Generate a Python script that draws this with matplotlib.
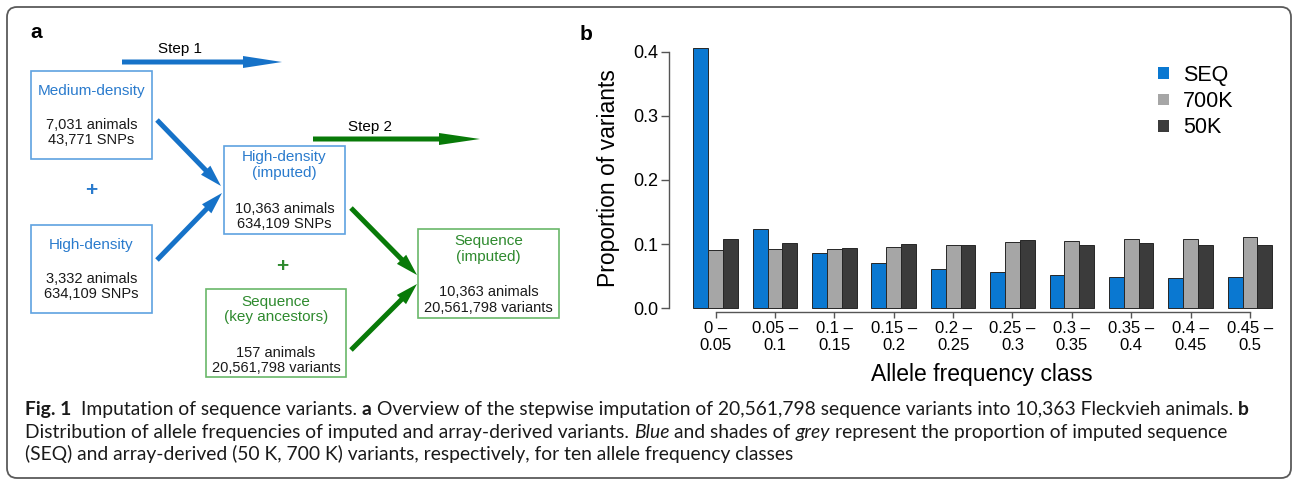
import matplotlib
matplotlib.use("Agg")
import matplotlib.pyplot as plt
from matplotlib.patches import FancyBboxPatch, Rectangle, FancyArrow
import numpy as np

plt.rcParams['font.family'] = ['Liberation Sans', 'DejaVu Sans']

# panel b: proportion of variants per allele frequency class
class_lo = ["0", "0.05", "0.1", "0.15", "0.2", "0.25", "0.3", "0.35", "0.4", "0.45"]
class_hi = ["0.05", "0.1", "0.15", "0.2", "0.25", "0.3", "0.35", "0.4", "0.45", "0.5"]
seq = [0.406, 0.123, 0.086, 0.071, 0.061, 0.057, 0.052, 0.049, 0.048, 0.049]
k700 = [0.091, 0.092, 0.092, 0.095, 0.099, 0.104, 0.105, 0.108, 0.108, 0.111]
k50 = [0.108, 0.102, 0.094, 0.100, 0.099, 0.106, 0.098, 0.102, 0.099, 0.099]
series = ["SEQ", "700K", "50K"]
yticks = [0.0, 0.1, 0.2, 0.3, 0.4]

# panel a: imputation steps
med_title, med_body = "Medium-density", "7,031 animals\n43,771 SNPs"
hd_title, hd_body = "High-density", "3,332 animals\n634,109 SNPs"
hdi_title, hdi_body = "High-density\n(imputed)", "10,363 animals\n634,109 SNPs"
key_title, key_body = "Sequence\n(key ancestors)", "157 animals\n20,561,798 variants"
seqi_title, seqi_body = "Sequence\n(imputed)", "10,363 animals\n20,561,798 variants"

caption = [
    [("Fig. 1", "bold", "normal", 2),
     ("Imputation of sequence variants.", "normal", "normal", 1),
     ("a", "bold", "normal", 1),
     ("Overview of the stepwise imputation of 20,561,798 sequence variants into 10,363 Fleckvieh animals.", "normal", "normal", 1),
     ("b", "bold", "normal", 0)],
    [("Distribution of allele frequencies of imputed and array-derived variants.", "normal", "normal", 1),
     ("Blue", "normal", "italic", 1),
     ("and shades of", "normal", "normal", 1),
     ("grey", "normal", "italic", 1),
     ("represent the proportion of imputed sequence", "normal", "normal", 0)],
    [("(SEQ) and array-derived (50 K, 700 K) variants, respectively, for ten allele frequency classes", "normal", "normal", 0)],
]

W, H = 1292, 482
fig = plt.figure(figsize=(W / 100, H / 100), dpi=100)
fig.patch.set_facecolor("white")

# overlay in pixel coordinates for the diagram, frame and caption
ax0 = fig.add_axes([0, 0, 1, 1])
ax0.set_xlim(0, W)
ax0.set_ylim(H, 0)
ax0.axis("off")

ax0.add_patch(FancyBboxPatch((7, 7), 1284, 471, boxstyle="round,pad=0,rounding_size=10",
                             fill=False, ec="#5a5a5a", lw=1.3))

BLUE_T, BLUE_E, BLUE_A = "#2a7bcd", "#5fa2e0", "#1672c8"
GREEN_T, GREEN_E, GREEN_A = "#2e8a2e", "#6ab86a", "#087a08"


def box(x0, y0, x1, y1, title, ty, body, by, tcol, ecol):
    ax0.add_patch(Rectangle((x0, y0), x1 - x0, y1 - y0, fill=False, ec=ecol, lw=1.2))
    cx = (x0 + x1) / 2
    ax0.text(cx, ty, title, color=tcol, fontsize=11, ha="center", va="center", linespacing=1.15)
    ax0.text(cx, by, body, color="#1a1a1a", fontsize=10.5, ha="center", va="center", linespacing=1.1)


def arrow(x0, y0, x1, y1, col, hl, hw):
    ax0.add_patch(FancyArrow(x0, y0, x1 - x0, y1 - y0, width=5, head_width=hw, head_length=hl,
                             length_includes_head=True, color=col, lw=0))


ax0.text(36, 33, "a", fontsize=15, fontweight="bold", ha="center", va="center")
ax0.text(586, 35, "b", fontsize=15, fontweight="bold", ha="center", va="center")

ax0.text(180, 49, "Step 1", fontsize=11, ha="center", va="center")
arrow(122, 62, 282, 62, BLUE_A, 39, 12)
box(31, 71, 152, 159, med_title, 91, med_body, 132.5, BLUE_T, BLUE_E)
ax0.text(91, 191, "+", fontsize=15, color=BLUE_T, ha="center", va="center", fontweight="bold")
box(31, 225, 152, 313, hd_title, 245, hd_body, 286.5, BLUE_T, BLUE_E)
arrow(157, 120, 221, 186, BLUE_A, 22, 13)
arrow(157, 260, 222, 193, BLUE_A, 22, 13)
box(224, 146, 345, 234, hdi_title, 165, hdi_body, 216.5, BLUE_T, BLUE_E)

ax0.text(370, 127, "Step 2", fontsize=11, ha="center", va="center")
arrow(313, 139, 480, 139, GREEN_A, 41, 12)
ax0.text(282, 267, "+", fontsize=15, color=GREEN_T, ha="center", va="center", fontweight="bold")
box(206, 289, 346, 377, key_title, 309.5, key_body, 360.5, GREEN_T, GREEN_E)
arrow(351, 208, 417, 275, GREEN_A, 22, 13)
arrow(351, 350, 417, 284, GREEN_A, 22, 13)
box(418, 229, 559, 318, seqi_title, 249, seqi_body, 300, GREEN_T, GREEN_E)

# caption, fitted to the measured line width
CAP = ["Lato", "Open Sans", "DejaVu Sans"]
r = fig.canvas.get_renderer()


def width_of(s, size, weight="normal", style="normal"):
    t = ax0.text(0, 0, s, fontsize=size, fontweight=weight, fontstyle=style, family=CAP)
    w = t.get_window_extent(r).width
    t.remove()
    return w


def line_width(segs, size):
    sp = width_of("x x", size) - width_of("xx", size)
    return sum(width_of(s, size, w, st) + n * sp for s, w, st, n in segs)


cap_size = 12 * (1247 - 25) / line_width(caption[0], 12)
sp = width_of("x x", cap_size) - width_of("xx", cap_size)
for segs, yb in zip(caption, [415, 438, 460]):
    x = 25
    for s, w, st, n in segs:
        t = ax0.text(x, yb, s, fontsize=cap_size, fontweight=w, fontstyle=st, family=CAP,
                     ha="left", va="baseline", color="#1a1a1a")
        x += t.get_window_extent(r).width + n * sp

# panel b bar chart
axb = fig.add_axes([669 / W, 1 - 320 / H, (1290 - 669) / W, (320 - 40) / H])
axb.patch.set_alpha(0)
cols = ["#0a78d1", "#a6a6a6", "#3b3b3b"]
left = np.arange(len(seq)) * 4 + 1
for j, (vals, c, name) in enumerate(zip([seq, k700, k50], cols, series)):
    axb.bar(left + j, vals, width=1, align="edge", color=c, edgecolor="#262626", linewidth=0.7)

axb.set_xlim(-0.644, 41.2)
axb.set_ylim(-0.01824, 0.4182)
for s in ["top", "right"]:
    axb.spines[s].set_visible(False)
axb.spines["left"].set_bounds(0, 0.4)
axb.spines["bottom"].set_position(("data", -0.0058))
axb.spines["bottom"].set_bounds(left[0] + 1.5, left[-1] + 1.5)
for s in ["left", "bottom"]:
    axb.spines[s].set_color("#555555")
    axb.spines[s].set_linewidth(1)

axb.set_xticks(left + 1.5)
axb.set_xticklabels([f"{lo} \u2013\n{hi}" for lo, hi in zip(class_lo, class_hi)])
axb.set_yticks(yticks)
axb.set_yticklabels([f"{v:.1f}" for v in yticks])
axb.tick_params(axis="x", length=4.3, width=1, color="#555555", pad=2, labelsize=12)
axb.tick_params(axis="y", length=5.8, width=1, color="#555555", pad=2, labelsize=13)

axb.set_ylabel("Proportion of variants", fontsize=16.5, va="center", ha="center")
axb.yaxis.set_label_coords((608 - 669) / 621, (320 - 178) / 280)
axb.set_xlabel("Allele frequency class", fontsize=16.5, va="center")
axb.xaxis.set_label_coords((982 - 669) / 621, (320 - 374) / 280)

handles = [Rectangle((0, 0), 1, 1, fc=c, ec="none") for c in cols]
axb.legend(handles, series, loc="upper left", bbox_to_anchor=((1158 - 669) / 621, (320 - 65) / 280),
           frameon=False, fontsize=15.5, handlelength=0.5, handleheight=0.47, handletextpad=0.65,
           labelspacing=0.24, borderpad=0, borderaxespad=0)

fig.savefig("out.png", dpi=100)
